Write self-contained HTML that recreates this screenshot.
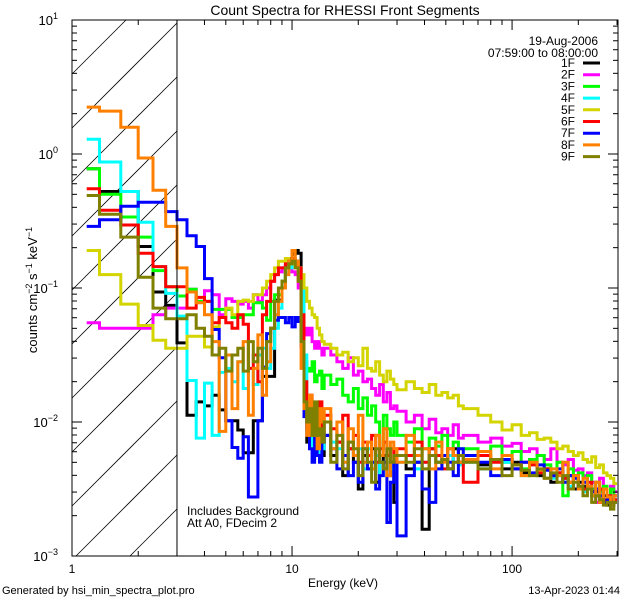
<!DOCTYPE html>
<html><head><meta charset="utf-8"><style>
html,body{margin:0;padding:0;background:#fff;width:640px;height:600px;overflow:hidden}
svg{display:block;font-family:"Liberation Sans",sans-serif}
</style></head><body>
<svg id="chart" width="640" height="600" viewBox="0 0 640 600">
<rect x="0" y="0" width="640" height="600" fill="#fff"/>
<defs><clipPath id="plotclip"><rect x="72" y="20" width="546" height="536"/></clipPath></defs>
<g id="hatch"></g>
<g id="series" clip-path="url(#plotclip)"></g>
<g id="axes"></g>
<text x="345" y="15" text-anchor="middle" font-size="14">Count Spectra for RHESSI Front Segments</text>
<text x="598" y="45" text-anchor="end" font-size="12">19-Aug-2006</text>
<text x="598" y="57" text-anchor="end" font-size="12">07:59:00 to 08:00:00</text>
<g id="legend"></g>
<text x="187" y="515" font-size="12">Includes Background</text>
<text x="187" y="527" font-size="12">Att A0, FDecim 2</text>
<text x="343" y="587" text-anchor="middle" font-size="12">Energy (keV)</text>
<text transform="translate(37,290) rotate(-90)" text-anchor="middle" font-size="13">counts cm<tspan dy="-5" font-size="9">−2</tspan><tspan dy="5"> s</tspan><tspan dy="-5" font-size="9">−1</tspan><tspan dy="5"> keV</tspan><tspan dy="-5" font-size="9">−1</tspan></text>
<text x="2" y="594" font-size="11">Generated by hsi_min_spectra_plot.pro</text>
<text x="620" y="594" text-anchor="end" font-size="11">13-Apr-2023 01:44</text>
</svg>
<script>
// ---- data ----
const segmentNames = ["1F","2F","3F","4F","5F","6F","7F","8F","9F"];
const segmentColors = ["#000000","#ff00ff","#00ff00","#00ffff","#d4d400","#ff0000","#0000ff","#ff8000","#808000"];
const edgesLow = [1.1667,1.3333,1.6667,2,2.3333,2.6667,3,3.3333,3.6667,4,4.3333,4.6667,5,5.3333,5.6667,6,6.3333,6.6667,7,7.3333,7.6667,8,8.3333,8.6667,9,9.3333,9.6667,10,10.3333,10.6667,11,11.3333,11.6667,12,12.3333,12.6667,13,13.3333,13.6667];
const edgesHigh = [14,15,16,17,18,19,20,21,22,23,24,25,26,27,28,29,30,33,36,39,42,45,48,51,54,57,60,70,80,90,100,110,120,130,140,150,160,170,180,190,200,210,220,230,240,250,260,270,280,290,300];
const log1F_low = [-0.11,-0.28,-0.28,-0.69,-1.03,-1.13,-1.41,-1.95,-1.85,-1.88,-1.80,-1.91,-1.99,-1.99,-2.06,-2.23,-2.23,-1.99,-1.99,-1.66,-1.66,-1.66,-1.09,-1.09,-0.95,-0.84,-0.78,-0.75,-0.72,-0.74,-1.14,-1.84,-2.15,-2.13,-2.13,-2.1,-2.2,-2.15,-2.25];
const log2F_low = [-1.26,-1.3,-1.3,-1.3,-1.2,-1.15,-1.15,-1.01,-1.1,-1.02,-1.05,-1.2,-1.08,-1.1,-1.12,-1.1,-1.15,-1.05,-1.1,-1.05,-1.0,-0.95,-0.9,-0.88,-0.85,-0.83,-0.85,-0.88,-0.9,-1.0,-1.2,-1.3,-1.35,-1.3,-1.4,-1.45,-1.4,-1.45,-1.5];
const log3F_low = [-0.11,-0.30,-0.47,-0.62,-0.87,-0.99,-1.06,-1.01,-1.1,-1.1,-1.16,-1.16,-1.16,-1.22,-1.22,-1.2,-1.2,-1.11,-1.11,-1.15,-1.24,-1.1,-1.05,-1.05,-0.95,-0.85,-0.8,-0.78,-0.8,-0.85,-1.1,-1.55,-1.6,-1.62,-1.55,-1.7,-1.65,-1.62,-1.75];
const log4F_low = [0.11,-0.06,-0.28,-0.51,-0.84,-1.04,-1.21,-1.69,-2.12,-1.71,-2.1,-1.63,-1.6,-1.7,-1.55,-1.75,-1.6,-1.72,-1.5,-1.45,-1.6,-1.45,-1.3,-1.15,-1.0,-0.9,-0.85,-0.8,-0.8,-0.85,-1.0,-1.5,-1.9,-2.05,-2.2,-2.0,-2.25,-2.1,-2.2];
const log5F_low = [-0.72,-0.9,-1.12,-1.28,-1.39,-1.45,-1.45,-1.36,-1.36,-1.44,-1.29,-1.22,-1.15,-1.2,-1.1,-1.09,-1.1,-1.05,-1.05,-1.0,-0.95,-0.9,-0.85,-0.8,-0.8,-0.78,-0.8,-0.82,-0.8,-0.85,-0.9,-1.0,-1.1,-1.15,-1.2,-1.22,-1.3,-1.35,-1.4];
const log6F_low = [-0.26,-0.42,-0.53,-0.74,-0.84,-0.99,-0.99,-1.15,-1.07,-1.1,-1.26,-1.22,-1.26,-1.3,-1.2,-1.27,-1.6,-1.5,-1.7,-1.2,-1.1,-0.95,-0.9,-0.85,-0.85,-0.82,-0.8,-0.78,-0.8,-0.85,-1.2,-1.7,-1.95,-1.8,-2.0,-1.9,-2.05,-1.85,-2.1];
const log7F_low = [-0.54,-0.49,-0.39,-0.36,-0.36,-0.43,-0.49,-0.61,-0.69,-0.93,-1.31,-1.52,-1.99,-2.19,-2.27,-2.11,-2.56,-2.56,-1.99,-1.59,-1.34,-1.3,-1.24,-1.22,-1.22,-1.26,-1.22,-1.29,-1.22,-1.25,-1.44,-1.96,-2.05,-2.2,-2.3,-2.1,-2.25,-2.3,-2.15];
const log8F_low = [0.35,0.32,0.2,-0.03,-0.27,-0.54,-0.85,-1.03,-1.11,-1.2,-1.4,-2.07,-1.5,-1.9,-1.55,-1.4,-1.95,-1.6,-1.35,-1.8,-1.55,-1.3,-1.2,-1.1,-1.0,-0.9,-0.8,-0.72,-0.8,-0.95,-1.6,-1.9,-2.1,-1.8,-2.1,-1.9,-2.2,-1.9,-2.0];
const log9F_low = [-0.31,-0.45,-0.62,-0.92,-1.15,-1.23,-1.23,-1.2,-1.3,-1.36,-1.5,-1.45,-1.62,-1.5,-1.45,-1.62,-1.4,-1.55,-1.45,-1.6,-1.4,-1.3,-1.1,-1.0,-0.95,-0.85,-0.82,-0.8,-0.85,-0.95,-1.4,-1.85,-2.0,-1.9,-2.1,-1.85,-2.1,-2.05,-2.15];
const log1F_high = [-2.1,-2.25,-2.15,-2.4,-2.2,-2.3,-2.5,-2.25,-2.35,-2.2,-2.45,-2.3,-2.25,-2.4,-2.3,-2.6,-2.25,-2.35,-2.3,-2.8,-2.2,-2.3,-2.25,-2.35,-2.2,-2.3,-2.25,-2.32,-2.28,-2.35,-2.3,-2.38,-2.3,-2.4,-2.35,-2.45,-2.38,-2.42,-2.4,-2.5,-2.45,-2.48,-2.5,-2.55,-2.52,-2.6,-2.55,-2.62,-2.58,-2.6];
const log2F_high = [-1.45,-1.5,-1.55,-1.6,-1.52,-1.65,-1.62,-1.7,-1.68,-1.75,-1.8,-1.72,-1.85,-1.78,-1.9,-1.88,-1.92,-2.0,-1.95,-2.05,-1.98,-2.08,-2.05,-2.1,-2.02,-2.12,-2.1,-2.15,-2.12,-2.18,-2.16,-2.22,-2.2,-2.25,-2.28,-2.2,-2.3,-2.32,-2.28,-2.36,-2.35,-2.4,-2.38,-2.45,-2.6,-2.42,-2.5,-2.55,-2.48,-2.52];
const log3F_high = [-1.65,-1.72,-1.68,-1.8,-1.85,-1.75,-1.9,-1.82,-1.95,-1.88,-2.0,-2.2,-1.95,-2.05,-2.1,-2.0,-2.1,-2.15,-2.05,-2.2,-2.12,-2.18,-2.1,-2.25,-2.15,-2.2,-2.2,-2.25,-2.18,-2.3,-2.22,-2.35,-2.28,-2.25,-2.32,-2.4,-2.3,-2.55,-2.35,-2.42,-2.38,-2.45,-2.4,-2.5,-2.45,-2.52,-2.48,-2.55,-2.5,-2.58];
const log4F_high = [-2.0,-2.15,-2.2,-2.3,-2.15,-2.25,-2.2,-2.35,-2.2,-2.3,-2.25,-2.4,-2.3,-2.25,-2.35,-2.3,-2.3,-2.25,-2.35,-2.3,-2.2,-2.3,-2.28,-2.25,-2.3,-2.32,-2.3,-2.35,-2.28,-2.3,-2.35,-2.4,-2.32,-2.38,-2.35,-2.42,-2.4,-2.45,-2.48,-2.42,-2.5,-2.52,-2.48,-2.55,-2.5,-2.58,-2.6,-2.55,-2.62,-2.6];
const log5F_high = [-1.42,-1.45,-1.5,-1.48,-1.55,-1.52,-1.58,-1.45,-1.6,-1.62,-1.55,-1.65,-1.7,-1.62,-1.68,-1.72,-1.76,-1.7,-1.75,-1.78,-1.72,-1.8,-1.78,-1.82,-1.8,-1.88,-1.9,-1.95,-2.0,-2.06,-2.02,-2.1,-2.08,-2.13,-2.12,-2.15,-2.2,-2.18,-2.22,-2.25,-2.23,-2.28,-2.3,-2.26,-2.34,-2.32,-2.38,-2.4,-2.42,-2.46];
const log6F_high = [-1.95,-2.05,-2.15,-1.95,-2.2,-2.1,-2.3,-2.15,-2.25,-2.1,-2.3,-2.2,-2.15,-2.25,-2.2,-2.3,-2.2,-2.25,-2.15,-2.3,-2.2,-2.25,-2.35,-2.2,-2.25,-2.3,-2.45,-2.25,-2.3,-2.28,-2.35,-2.3,-2.32,-2.38,-2.35,-2.4,-2.38,-2.42,-2.45,-2.4,-2.48,-2.5,-2.45,-2.52,-2.55,-2.5,-2.58,-2.55,-2.6,-2.58];
const log7F_high = [-2.1,-2.2,-2.35,-2.25,-2.4,-2.3,-2.45,-2.2,-2.35,-2.3,-2.5,-2.4,-2.3,-2.75,-2.45,-2.3,-2.85,-2.4,-2.3,-2.5,-2.6,-2.35,-2.25,-2.3,-2.4,-2.2,-2.25,-2.3,-2.4,-2.28,-2.35,-2.3,-2.38,-2.32,-2.36,-2.4,-2.35,-2.45,-2.4,-2.42,-2.5,-2.45,-2.48,-2.52,-2.5,-2.55,-2.6,-2.58,-2.62,-2.55];
const log8F_high = [-1.9,-2.2,-2.0,-2.3,-2.05,-2.25,-1.95,-2.3,-2.15,-2.35,-2.1,-2.25,-2.05,-2.4,-2.15,-2.2,-2.3,-2.1,-2.25,-2.2,-2.35,-2.15,-2.3,-2.2,-2.25,-2.3,-2.28,-2.22,-2.35,-2.25,-2.32,-2.4,-2.3,-2.36,-2.42,-2.35,-2.4,-2.3,-2.45,-2.4,-2.5,-2.42,-2.48,-2.55,-2.45,-2.6,-2.5,-2.56,-2.62,-2.55];
const log9F_high = [-2.0,-2.3,-2.1,-2.35,-2.15,-2.2,-2.4,-2.2,-2.3,-2.45,-2.2,-2.3,-2.35,-2.2,-2.3,-2.25,-2.25,-2.3,-2.2,-2.35,-2.25,-2.3,-2.28,-2.35,-2.3,-2.25,-2.3,-2.35,-2.28,-2.4,-2.32,-2.36,-2.4,-2.35,-2.42,-2.38,-2.45,-2.4,-2.5,-2.45,-2.48,-2.55,-2.5,-2.6,-2.55,-2.58,-2.62,-2.6,-2.65,-2.6];
const xTickLabels = ["1","10","100"];
const yTickExponents = ["1","0","−1","−2","−3"];

// ---- axes functions ----
const X0=72, X1=618, Y0=20, Y1=556;
const xMinLog=0, xMaxLog=Math.log10(303);
const yMaxLog=1, yMinLog=-3;
function xs(e){return X0+(Math.log10(e)-xMinLog)/(xMaxLog-xMinLog)*(X1-X0);}
function ysLog(l){return Y0+(yMaxLog-l)/(yMaxLog-yMinLog)*(Y1-Y0);}
const NS="http://www.w3.org/2000/svg";
function mk(tag,attrs,parent){const el=document.createElementNS(NS,tag);for(const k in attrs)el.setAttribute(k,attrs[k]);parent.appendChild(el);return el;}

// hatch (lines y = c - (x - X0), clipped analytically to hatch box)
const hatch=document.getElementById('hatch');
const HX1=xs(3);
for(let k=-3;k<14;k++){
  const c=Y0+k*54;
  let xa=X0, ya=c, xb=HX1, yb=c-(HX1-X0);
  if(ya>Y1){xa=X0+(ya-Y1);ya=Y1;}
  if(yb<Y0){xb=X0+(c-Y0);yb=Y0;}
  if(xa>=xb||ya<Y0||yb>Y1)continue;
  const ln=mk('line',{x1:xa,y1:ya,x2:xb,y2:yb,stroke:'#000','stroke-width':0.8},hatch);
  
  
}
const att=mk('line',{x1:HX1,y1:Y0,x2:HX1,y2:Y1,stroke:'#000','stroke-width':1},document.getElementById('axes'));



// series
const lowSets=[log1F_low,log2F_low,log3F_low,log4F_low,log5F_low,log6F_low,log7F_low,log8F_low,log9F_low];
const highSets=[log1F_high,log2F_high,log3F_high,log4F_high,log5F_high,log6F_high,log7F_high,log8F_high,log9F_high];
const edges=edgesLow.concat(edgesHigh);
const sg=document.getElementById('series');
for(let s=0;s<segmentNames.length;s++){
  const vals=lowSets[s].concat(highSets[s]);
  let d='';
  for(let i=0;i<vals.length;i++){
    const xa=xs(edges[i]).toFixed(1), xb=xs(edges[i+1]).toFixed(1), y=ysLog(vals[i]).toFixed(1);
    d+=(i===0?'M':'L')+xa+','+y+'L'+xb+','+y;
  }
  const p=mk('path',{d:d,fill:'none',stroke:segmentColors[s],'stroke-width':3,'stroke-linejoin':'miter'},sg);
  
  
}

// axes frame & ticks
const ax=document.getElementById('axes');
const frame=mk('rect',{x:X0,y:Y0,width:X1-X0,height:Y1-Y0,fill:'none',stroke:'#000','stroke-width':1},ax);


for(let dec=0;dec<3;dec++){
  for(let m=1;m<10;m++){
    const e=m*Math.pow(10,dec); if(e>303)break;
    const x=xs(e), L=(m===1)?10:5;
    const t1=mk('line',{x1:x,y1:Y1,x2:x,y2:Y1-L,stroke:'#000','stroke-width':1},ax);
    
    
    const t2=mk('line',{x1:x,y1:Y0,x2:x,y2:Y0+L,stroke:'#000','stroke-width':1},ax);
    
    
  }
  const lb=mk('text',{x:xs(Math.pow(10,dec)),y:Y1+17,'text-anchor':'middle','font-size':12},ax);
  lb.textContent=xTickLabels[dec];
  
  
}
for(let p=-3;p<=1;p++){
  for(let m=1;m<10;m++){
    const l=p+Math.log10(m); if(l>1.0001)break;
    const y=ysLog(l), L=(m===1)?10:5;
    const t1=mk('line',{x1:X0,y1:y,x2:X0+L,y2:y,stroke:'#000','stroke-width':1},ax);
    
    
    const t2=mk('line',{x1:X1,y1:y,x2:X1-L,y2:y,stroke:'#000','stroke-width':1},ax);
    
    
  }
  const tl=mk('text',{x:58,y:ysLog(p)+5,'text-anchor':'end','font-size':13},ax);
  tl.textContent='10';
  const sp=mk('tspan',{dy:-6,'font-size':9},tl);
  sp.textContent=yTickExponents[1-p];
  
  
}

// legend
const lg=document.getElementById('legend');
for(let s=0;s<segmentNames.length;s++){
  const y=67+s*11.7;
  const t=mk('text',{x:575,y:y,'text-anchor':'end','font-size':12},lg);
  t.textContent=segmentNames[s];
  
  
  const l=mk('line',{x1:583,y1:y-4,x2:600,y2:y-4,stroke:segmentColors[s],'stroke-width':3},lg);
  
  
}
</script>
</body></html>
